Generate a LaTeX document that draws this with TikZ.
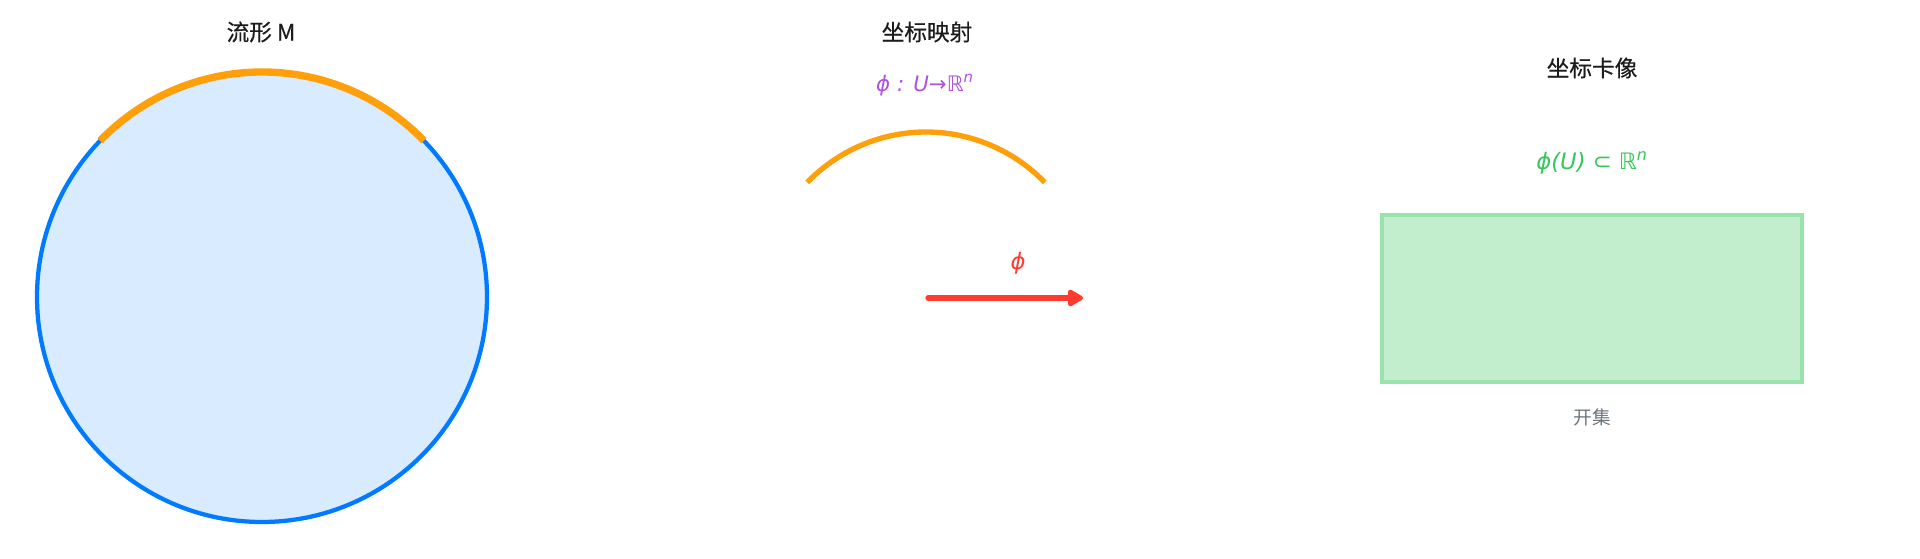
\documentclass[tikz,border=0pt]{standalone}
\usepackage{fontspec}
\setmainfont{Noto Sans CJK SC}
\newfontfamily\titlefont{Noto Sans CJK SC}[FakeBold=0.4]
\newfontfamily\symfont{DejaVu Sans}
\usepackage{xcolor}
\usepackage{tikz}
\usetikzlibrary{arrows.meta}

\definecolor{ink}{HTML}{1C1C1E}
\definecolor{mblue}{HTML}{007AFF}
\definecolor{morange}{HTML}{FF9F0A}
\definecolor{mred}{HTML}{FF3B30}
\definecolor{mpurple}{HTML}{AF52DE}
\definecolor{mgreen}{HTML}{34C759}
\definecolor{mgrey}{HTML}{6C757D}

\tikzset{
  title/.style={text=ink,font=\titlefont\fontsize{17}{20}\selectfont},
  formula/.style={font=\symfont\itshape\fontsize{16}{19}\selectfont},
  patch/.style={morange,line width=5.5pt},
}

\begin{document}
\begin{tikzpicture}[x=0.75pt,y=0.75pt]
\useasboundingbox (0,0) rectangle (1920,559);

\begin{scope}
    \fill[mblue!15] (262,262) circle(225);
    \draw[mblue,line width=3.2pt] (262,262) circle(225);
    \draw[patch] (262,262) ++(44:225) arc[start angle=44,end angle=136,radius=225];
    \node[title] (manifold) at (261,527) {流形 M};
\end{scope}

\begin{scope}
    \node[title] (maptitle) at (927,527) {坐标映射};
    \node[formula,text=mpurple] (mapformula) at (925,474) {ϕ : U→ℝ\textsuperscript{n}};
    \draw[patch,line width=4pt] (926,262) ++(44:165) arc[start angle=44,end angle=136,radius=165];
    \coordinate (phistart) at (928,261);
    \coordinate (phiend) at (1083,261);
    \draw[mred,line width=4pt,line cap=round,-{Triangle[length=13pt,width=14pt,round]}] (phistart) -- (phiend);
    \node[formula,text=mred,font=\symfont\itshape\fontsize{17}{20}\selectfont] (philabel) at (1018,296) {ϕ};
\end{scope}

\begin{scope}
    \node[title] (charttitle) at (1592,491) {坐标卡像};
    \node[formula,text=mgreen,font=\symfont\itshape\fontsize{17}{20}\selectfont] (chartformula) at (1592,396) {ϕ(U) ⊂ ℝ\textsuperscript{n}};
    \filldraw[fill=mgreen!30,draw=mgreen!50,line width=3pt] (1382,344) rectangle (1802,177);
    \node[text=mgrey,font=\fontsize{14}{16}\selectfont] (openset) at (1592,142) {开集};
\end{scope}
\end{tikzpicture}
\end{document}
